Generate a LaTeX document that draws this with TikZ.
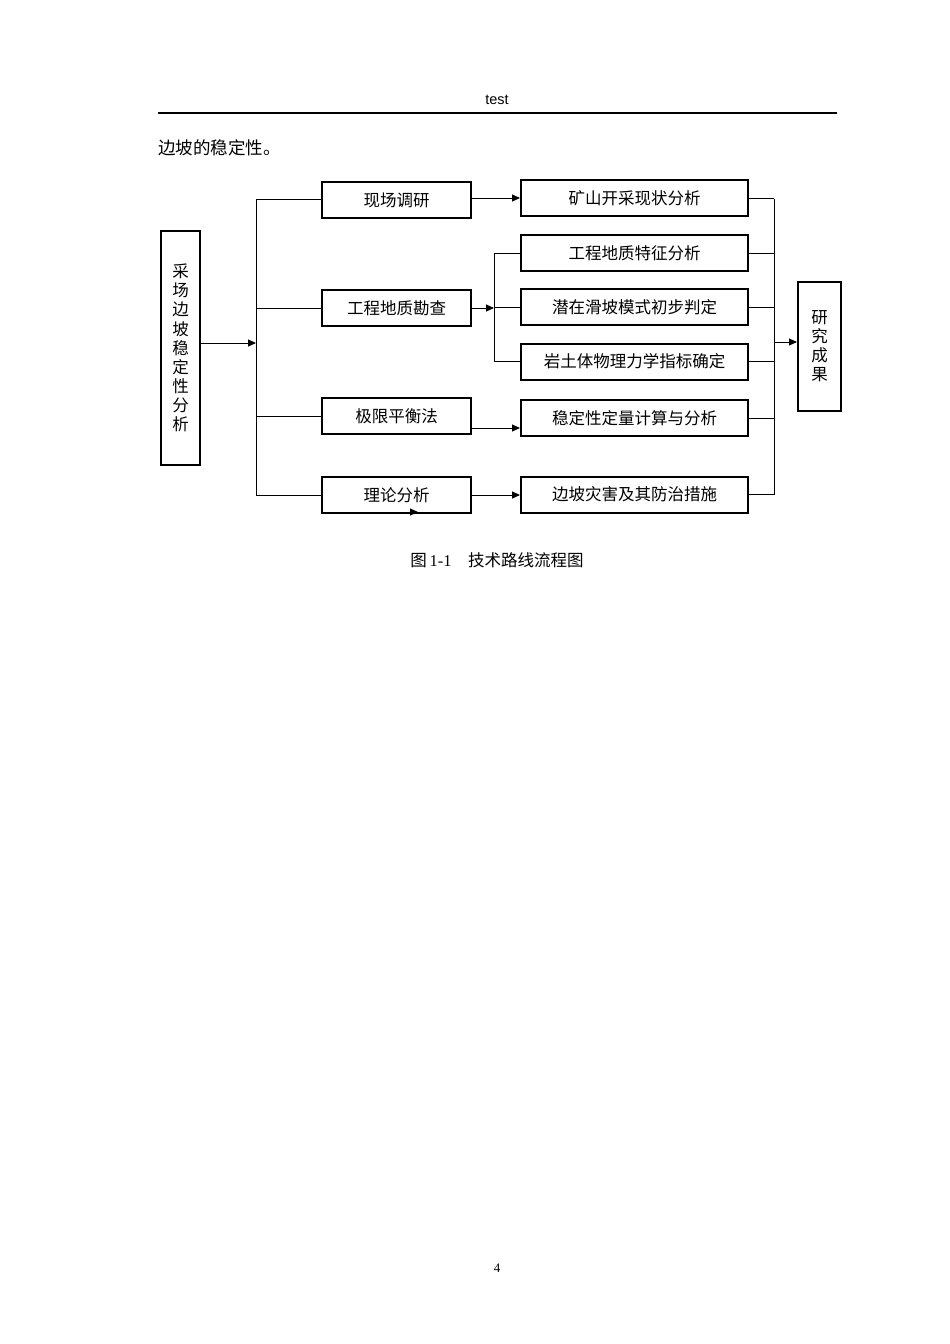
\documentclass[tikz,border=0pt]{standalone}
\usepackage{fontspec}
\setmainfont{Liberation Serif}
\newfontfamily\cjk{Noto Sans CJK SC}
\newfontfamily\hdfont{Liberation Sans}
\usetikzlibrary{arrows.meta}

\begin{document}
\begin{tikzpicture}[
  x=1pt, y=-1pt,
  >={Triangle[length=8pt, width=7pt]},
  every node/.style={inner sep=0pt, font=\cjk\fontsize{16.5}{19.1}\selectfont},
  stepbox/.style={draw, line width=2pt, minimum width=149pt, minimum height=36pt},
  resbox/.style={draw, line width=2pt, minimum width=227pt, minimum height=36pt},
  tallbox/.style={draw, line width=2pt, align=center},
  link/.style={draw, line width=1pt},
]
  \useasboundingbox (0,0) rectangle (950,1344);
  \fill[white] (0,0) rectangle (950,1344);

  % Page header and body text
  \node[font=\hdfont\fontsize{14.5}{16}\selectfont] (hd) at (497,100) {test};
  \coordinate (hl) at (158,113);
  \coordinate (hr) at (837,113);
  \draw[line width=1.4pt] (hl) -- (hr);
  \node[anchor=west, font=\cjk\fontsize{17.5}{20}\selectfont] (body) at (158,148) {边坡的稳定性。};

  % Column 1: Source
  \node[tallbox, minimum width=39pt, minimum height=234pt] (src) at (180.5,348)
    {采\\场\\边\\坡\\稳\\定\\性\\分\\析};

  % Column 2: Methods
  \node[stepbox] (xc) at (396.5,200) {现场调研};
  \node[stepbox] (gc) at (396.5,308) {工程地质勘查};
  \node[stepbox] (jx) at (396.5,416) {极限平衡法};
  \node[stepbox] (ll) at (396.5,495) {理论分析};

  % Column 3: Contents
  \node[resbox] (ks) at (634.5,198) {矿山开采现状分析};
  \node[resbox] (g1) at (634.5,253) {工程地质特征分析};
  \node[resbox] (g2) at (634.5,307) {潜在滑坡模式初步判定};
  \node[resbox] (g3) at (634.5,361.5) {岩土体物理力学指标确定};
  \node[resbox] (wd) at (634.5,418) {稳定性定量计算与分析};
  \node[resbox] (zh) at (634.5,494.5) {边坡灾害及其防治措施};

  % Column 4: Result
  \node[tallbox, minimum width=43pt, minimum height=129pt] (cg) at (819.5,346)
    {研\\究\\成\\果};

  % Trunks
  \coordinate (lt) at (256,199);
  \coordinate (lb) at (256,495);
  \coordinate (lj) at (256,343);
  \coordinate (mt) at (494,253);
  \coordinate (mb) at (494,361);
  \coordinate (rt) at (774,199);
  \coordinate (rb) at (774,495);
  \coordinate (rj) at (774,342);
  \draw[link] (lt) -- (lb);
  \draw[link] (mt) -- (mb);
  \draw[link] (rt) -- (rb);

  % Edges
  \draw[link, ->] (src.east |- lj) -- (lj);
  \draw[link] (lt) -- (xc.west |- lt);
  \draw[link] (gc.west -| lt) -- (gc.west);
  \draw[link] (jx.west -| lt) -- (jx.west);
  \draw[link] (lb) -- (ll.west |- lb);
  \draw[link, ->] (xc.east |- ks) -- (ks.west);
  \draw[link, ->] (gc.east) -- (gc.east -| mt);
  \draw[link] (mt) -- (g1.west |- mt);
  \draw[link] (g2.west -| mt) -- (g2.west);
  \draw[link] (mb) -- (g3.west |- mb);
  \draw[link, ->] ([yshift=-12pt]jx.east) -- ([yshift=-12pt]jx.east -| wd.west);
  \draw[link, ->] (ll.east) -- (ll.east -| zh.west);
  \draw[link] (ks.east) -- (ks.east -| rt);
  \draw[link] (g1.east) -- (g1.east -| rt);
  \draw[link] (g2.east) -- (g2.east -| rt);
  \draw[link] (g3.east) -- (g3.east -| rt);
  \draw[link] (wd.east) -- (wd.east -| rt);
  \draw[link] (zh.east) -- (zh.east -| rt);
  \draw[link, ->] (rj) -- (rj -| cg.west);

  % Stray arrow on the last box
  \coordinate (sa) at (367,512);
  \coordinate (sb) at (418,512);
  \draw[link, ->] (sa) -- (sb);

  % Caption and page number
  \node (cap) at (497,560) {图\,{\rmfamily 1-1}\quad 技术路线流程图};
  \node[font=\rmfamily\fontsize{13}{15}\selectfont] (pg) at (497,1268) {4};
\end{tikzpicture}
\end{document}
